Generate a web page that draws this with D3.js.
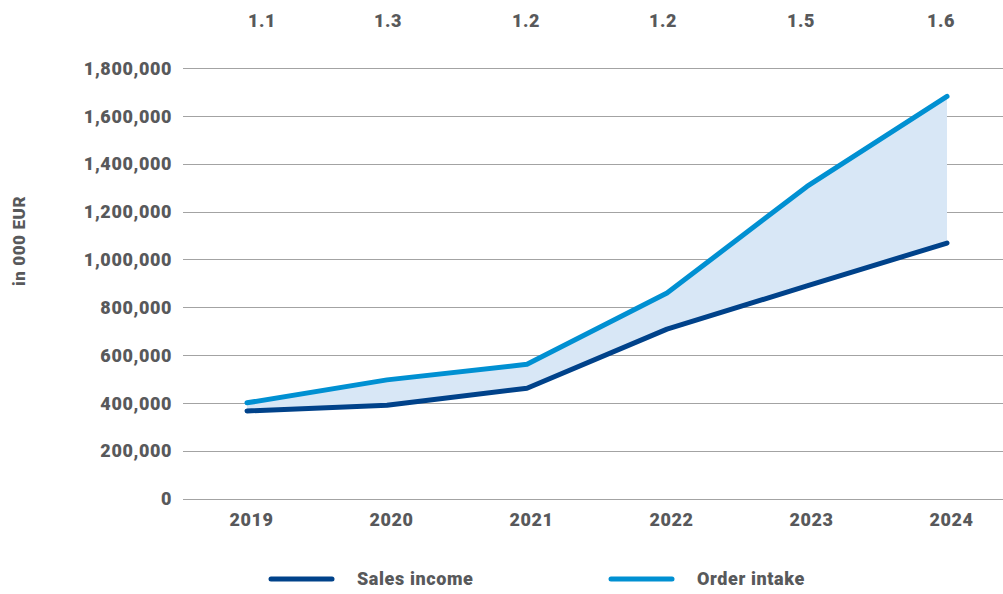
<!DOCTYPE html>
<html><head><meta charset="utf-8">
<script src="https://cdn.jsdelivr.net/npm/d3@7"></script>
<style>
html,body{margin:0;padding:0;background:#fff;}
text{font-family:Roboto, "Noto Sans", sans-serif;font-weight:900;fill:#58595b;letter-spacing:0.6px;}
</style></head>
<body><svg id="c" width="1003" height="594"></svg>
<script>
const years = ["2019","2020","2021","2022","2023","2024"];
const salesIncome = [366000, 390000, 461000, 708000, 889000, 1068000];
const orderIntake = [400000, 496000, 561000, 859000, 1305000, 1681000];
const ratioLabels = ["1.1","1.3","1.2","1.2","1.5","1.6"];
const yTicks = [0,200000,400000,600000,800000,1000000,1200000,1400000,1600000,1800000];
const seriesNames = ["Sales income","Order intake"];
const colors = {sales:"#00428a", order:"#0090d2", fill:"#d8e7f6", grid:"#a3a3a3"};
const FS = "18px";

const svg = d3.select("#c");
const x = d3.scalePoint().domain(years).range([247, 947]);
const y = d3.scaleLinear().domain([0,1800000]).range([498.5, 68]);
const gridL = 183, gridR = 1003;

// grid
svg.append("g").selectAll("line").data(yTicks).join("line")
  .attr("x1",gridL).attr("x2",gridR)
  .attr("y1",d=>Math.round(y(d))+0.5).attr("y2",d=>Math.round(y(d))+0.5)
  .attr("stroke",colors.grid).attr("stroke-width",1.2);

// y labels
const fmt = d3.format(",");
const yAxis = d3.axisLeft(y).tickValues(yTicks).tickFormat(fmt).tickSize(0).tickPadding(0);
const gy = svg.append("g").attr("transform","translate(172,0)").call(yAxis);
gy.select(".domain").remove();
gy.selectAll("text").style("font-size",FS).attr("fill","#58595b").style("font-family","Roboto").attr("dy","0.35em");

// x labels
const xAxis = d3.axisBottom(x).tickSize(0).tickPadding(0);
const gx = svg.append("g").attr("transform","translate(4,513)").call(xAxis);
gx.select(".domain").remove();
gx.selectAll("text").style("font-size",FS).attr("fill","#58595b").style("font-family","Roboto").attr("dy","0.7em");

// ratio labels on top
const xTop = d3.axisTop(x).tickSize(0).tickPadding(0).tickFormat((d,i)=>ratioLabels[i]);
const gt = svg.append("g").attr("transform","translate(0,27)").call(xTop);
gt.select(".domain").remove();
gt.selectAll("text").style("font-size",FS).attr("fill","#58595b").style("font-family","Roboto");
gt.selectAll(".tick").attr("transform",(d,i)=>`translate(${x(d)+[15,1,-1,-4,-6,-6][i]},0)`);

// area between
const rows = years.map((yr,i)=>({yr, s:salesIncome[i], o:orderIntake[i]}));
const area = d3.area().x(d=>x(d.yr)).y0(d=>y(d.s)).y1(d=>y(d.o));
svg.append("path").datum(rows).attr("d",area).attr("fill",colors.fill);

const line = acc => d3.line().x(d=>x(d.yr)).y(d=>y(acc(d)));
svg.append("path").datum(rows).attr("d",line(d=>d.o)).attr("fill","none")
  .attr("stroke",colors.order).attr("stroke-width",5).attr("stroke-linecap","round").attr("stroke-linejoin","round");
svg.append("path").datum(rows).attr("d",line(d=>d.s)).attr("fill","none")
  .attr("stroke",colors.sales).attr("stroke-width",5).attr("stroke-linecap","round").attr("stroke-linejoin","round");

// y title
svg.append("text").attr("transform","translate(25,241) rotate(-90)").attr("text-anchor","middle")
  .style("font-size","17px").text("in 000 EUR");

// legend
const leg = [{name:seriesNames[0],c:colors.sales,x:271},{name:seriesNames[1],c:colors.order,x:611}];
const lg = svg.append("g").selectAll("g").data(leg).join("g").attr("transform",d=>`translate(${d.x},579)`);
lg.append("line").attr("x1",0).attr("x2",61).attr("stroke",d=>d.c).attr("stroke-width",5).attr("stroke-linecap","round");
lg.append("text").attr("x",86).attr("dy","0.35em").style("font-size",FS).text(d=>d.name);
</script></body></html>
